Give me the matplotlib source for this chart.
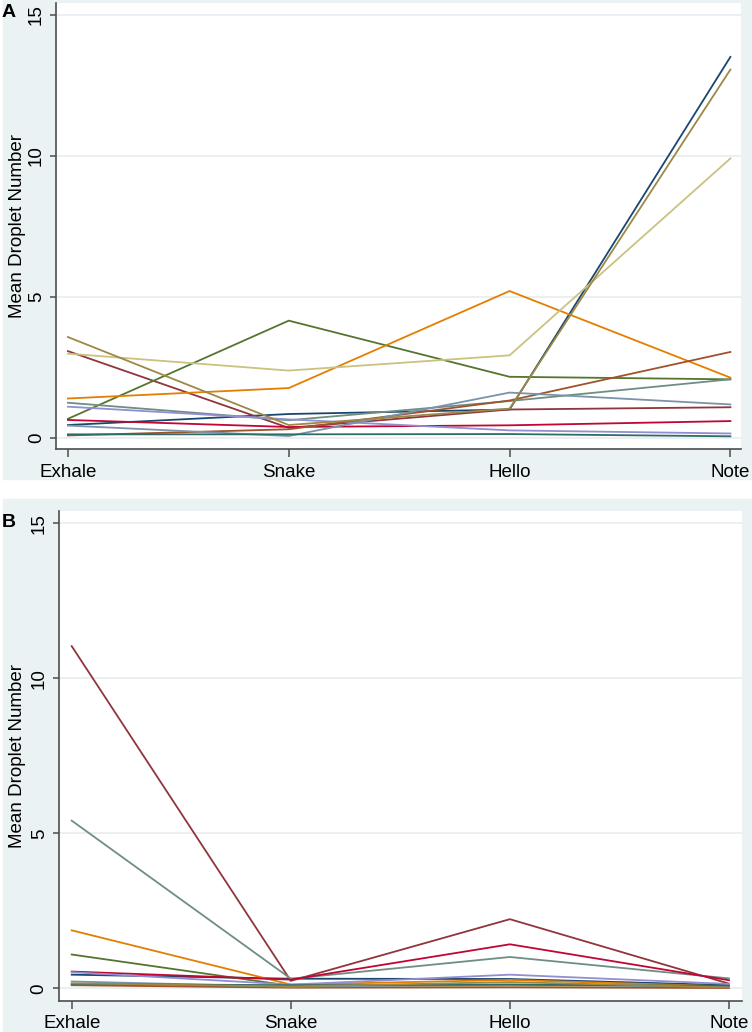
import matplotlib
matplotlib.use("Agg")
import matplotlib.pyplot as plt
from matplotlib.patches import Rectangle

plt.rcParams["font.family"] = ["Liberation Sans", "DejaVu Sans"]

tasks = ["Exhale", "Snake", "Hello", "Note"]
yticks = [0, 5, 10, 15]

# Stata s2color palette, in series order
colors = ["#1a476f", "#90353b", "#55752f", "#e37e00", "#6e8e84", "#c10534",
          "#938dd2", "#cac27e", "#a0522d", "#7b92a8", "#2d6d66", "#9c8847"]

# panel A: one row per series (Exhale, Snake, Hello, Note)
a_navy = [0.45, 0.84, 1.00, 13.50]
a_maroon = [3.07, 0.35, 1.00, 1.08]
a_forest = [0.67, 4.15, 2.16, 2.07]
a_orange = [1.39, 1.76, 5.20, 2.13]
a_teal = [1.24, 0.62, 1.30, 2.07]
a_cranberry = [0.63, 0.38, 0.44, 0.59]
a_lavender = [1.10, 0.65, 0.26, 0.15]
a_khaki = [2.98, 2.38, 2.92, 9.90]
a_sienna = [0.08, 0.30, 1.32, 3.04]
a_emidblue = [0.43, 0.06, 1.60, 1.18]
a_emerald = [0.12, 0.12, 0.13, 0.05]
a_brown = [3.57, 0.45, 1.03, 13.05]

# panel B
b_navy = [0.44, 0.31, 0.30, 0.10]
b_maroon = [11.04, 0.24, 2.23, 0.15]
b_forest = [1.09, 0.08, 0.10, 0.04]
b_orange = [1.87, 0.12, 0.27, 0.06]
b_teal = [5.41, 0.31, 1.01, 0.32]
b_cranberry = [0.54, 0.28, 1.42, 0.26]
b_lavender = [0.52, 0.12, 0.44, 0.14]
b_khaki = [0.12, 0.05, 0.08, 0.02]
b_sienna = [0.10, 0.02, 0.03, 0.01]
b_emidblue = [0.22, 0.05, 0.12, 0.05]
b_emerald = [0.14, 0.10, 0.12, 0.08]
b_brown = [0.16, 0.06, 0.20, 0.03]

series_a = [a_navy, a_maroon, a_forest, a_orange, a_teal, a_cranberry,
            a_lavender, a_khaki, a_sienna, a_emidblue, a_emerald, a_brown]
series_b = [b_navy, b_maroon, b_forest, b_orange, b_teal, b_cranberry,
            b_lavender, b_khaki, b_sienna, b_emidblue, b_emerald, b_brown]

W, H = 752, 1032
bg = "#eaf2f3"
axcol = "#4d4d4d"

fig = plt.figure(figsize=(W / 100, H / 100), dpi=100, facecolor="white")
fig.patches.append(Rectangle((3 / W, 1 - 479 / H), 1 - 3 / W, 479 / H,
                             transform=fig.transFigure, color=bg, zorder=-5))
fig.patches.append(Rectangle((3 / W, 0), 1 - 3 / W, 1 - 499 / H,
                             transform=fig.transFigure, color=bg, zorder=-5))

axA = fig.add_axes([56 / W, 1 - 449 / H, (741 - 56) / W, (449 - 3.3) / H])
axB = fig.add_axes([59 / W, 1 - 1000.7 / H, (741.7 - 59) / W, (1000.7 - 511) / H])


def draw(ax, series, xlim):
    x = range(len(tasks))
    for s, c in zip(series, colors):
        ax.plot(x, s, color=c, lw=1.3, solid_joinstyle="miter")
    ax.set_facecolor("white")
    ax.set_xlim(*xlim)
    ax.set_ylim(-0.4, 15.4)
    ax.set_xticks(list(x))
    ax.set_xticklabels(tasks, fontsize=13.5)
    ax.set_yticks(yticks)
    ax.set_yticklabels([str(v) for v in yticks], fontsize=13.5, rotation=90, va="center")
    ax.grid(axis="y", color="#e6eef0", lw=1.2)
    ax.set_axisbelow(True)
    for side in ["top", "right"]:
        ax.spines[side].set_visible(False)
    for side in ["left", "bottom"]:
        ax.spines[side].set_color(axcol)
        ax.spines[side].set_linewidth(1.2)
    ax.tick_params(axis="x", length=5.5, width=1.1, color=axcol, pad=5)
    ax.tick_params(axis="y", length=4.1, width=1.1, color=axcol, pad=4)


draw(axA, series_a, (-0.054, 3.048))
draw(axB, series_b, (-0.058, 3.058))

fig.text(18 / W, 1 - 226 / H, "Mean Droplet Number", rotation=90,
         ha="center", va="center", fontsize=13.5)
fig.text(18 / W, 1 - 756 / H, "Mean Droplet Number", rotation=90,
         ha="center", va="center", fontsize=13.5)
fig.text(2 / W, 1 - 4 / H, "A", fontsize=14, fontweight="bold", ha="left", va="top")
fig.text(2 / W, 1 - 514 / H, "B", fontsize=14, fontweight="bold", ha="left", va="top")

fig.savefig("out.png", dpi=100, facecolor="white")
